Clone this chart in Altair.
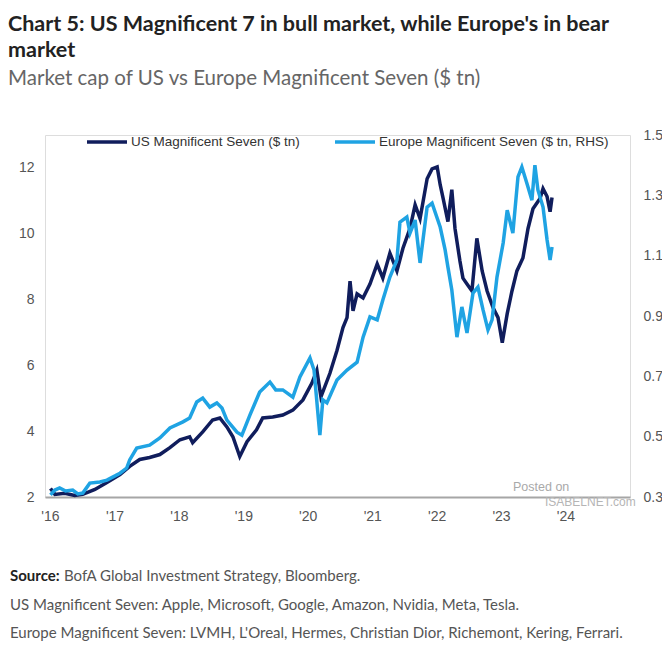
import altair as alt
import pandas as pd

# ---------------- data ----------------
us_name = "US Magnificent Seven ($ tn)"
eu_name = "Europe Magnificent Seven ($ tn, RHS)"

us_dates = [
    "2016-01-04", "2016-01-29", "2016-03-25", "2016-05-20", "2016-07-05", "2016-09-12",
    "2016-11-19", "2017-02-01", "2017-03-28", "2017-05-24", "2017-07-19", "2017-09-15",
    "2017-11-11", "2018-01-07", "2018-03-03", "2018-03-20", "2018-05-16", "2018-07-11",
    "2018-08-21", "2018-09-30", "2018-11-03", "2018-12-12", "2019-01-22", "2019-03-17",
    "2019-04-21", "2019-06-17", "2019-08-13", "2019-10-09", "2019-12-05", "2020-01-25",
    "2020-02-22", "2020-03-16", "2020-05-06", "2020-06-15", "2020-07-19", "2020-08-11",
    "2020-08-28", "2020-09-14", "2020-10-07", "2020-11-10", "2020-12-19", "2021-01-29",
    "2021-03-02", "2021-04-11", "2021-05-21", "2021-06-24", "2021-08-03", "2021-09-01",
    "2021-09-29", "2021-11-08", "2021-12-06", "2022-01-04", "2022-01-21", "2022-02-07",
    "2022-03-06", "2022-03-28", "2022-04-15", "2022-05-13", "2022-05-30", "2022-06-22",
    "2022-07-20", "2022-08-17", "2022-09-16", "2022-10-14", "2022-11-17", "2022-12-15",
    "2023-01-08", "2023-02-05", "2023-03-04", "2023-04-01", "2023-05-05", "2023-06-03",
    "2023-07-01", "2023-08-10", "2023-08-27", "2023-09-19", "2023-10-06", "2023-10-17",
]
us_values = [
    2.26, 2.08, 2.11, 2.05, 2.08, 2.23,
    2.44, 2.68, 2.93, 3.14, 3.20, 3.29,
    3.50, 3.74, 3.83, 3.65, 3.98, 4.34,
    4.40, 4.13, 3.83, 3.23, 3.68, 4.04,
    4.40, 4.43, 4.49, 4.64, 4.95, 5.46,
    5.85, 5.04, 5.76, 6.45, 7.15, 7.45,
    8.56, 7.66, 8.17, 8.05, 8.47, 9.08,
    8.65, 9.41, 8.87, 9.56, 10.16, 10.88,
    10.46, 11.67, 11.97, 12.03, 11.49, 11.07,
    10.37, 11.34, 10.16, 9.17, 8.65, 8.47,
    8.26, 9.86, 8.87, 8.26, 7.75, 7.45,
    6.69, 7.57, 8.26, 8.87, 9.26, 10.16,
    10.76, 11.07, 11.37, 11.13, 10.67, 11.10,
]

eu_dates = [
    "2016-01-04", "2016-01-29", "2016-02-25", "2016-03-30", "2016-05-09", "2016-06-07",
    "2016-07-05", "2016-08-14", "2016-10-10", "2016-11-19", "2017-01-04", "2017-02-01",
    "2017-03-11", "2017-03-28", "2017-05-07", "2017-07-19", "2017-09-15", "2017-11-11",
    "2018-01-24", "2018-03-03", "2018-04-12", "2018-05-16", "2018-06-25", "2018-08-04",
    "2018-09-02", "2018-09-30", "2018-11-26", "2018-12-24", "2019-02-08", "2019-04-04",
    "2019-06-01", "2019-07-04", "2019-08-13", "2019-10-09", "2019-11-18", "2020-01-14",
    "2020-02-06", "2020-03-10", "2020-03-27", "2020-04-19", "2020-06-15", "2020-08-11",
    "2020-10-07", "2020-11-10", "2020-12-19", "2021-01-29", "2021-03-02", "2021-04-11",
    "2021-05-21", "2021-06-07", "2021-07-16", "2021-08-03", "2021-09-01", "2021-09-29",
    "2021-11-08", "2021-12-06", "2022-01-21", "2022-02-18", "2022-03-06", "2022-03-28",
    "2022-04-26", "2022-05-24", "2022-06-22", "2022-07-26", "2022-08-23", "2022-09-21",
    "2022-10-19", "2022-11-11", "2022-12-09", "2023-01-13", "2023-02-05", "2023-03-09",
    "2023-04-07", "2023-04-29", "2023-05-27", "2023-06-25", "2023-07-12", "2023-07-29",
    "2023-08-27", "2023-09-19", "2023-10-06", "2023-10-17",
]
eu_values = [
    0.307, 0.323, 0.330, 0.320, 0.323, 0.310,
    0.313, 0.346, 0.350, 0.356, 0.370, 0.379,
    0.396, 0.423, 0.462, 0.472, 0.496, 0.529,
    0.549, 0.562, 0.615, 0.628, 0.598, 0.612,
    0.595, 0.555, 0.515, 0.505, 0.572, 0.648,
    0.681, 0.655, 0.655, 0.631, 0.698, 0.761,
    0.721, 0.505, 0.622, 0.612, 0.688, 0.721,
    0.747, 0.830, 0.897, 0.887, 0.953, 1.029,
    1.086, 1.211, 1.228, 1.175, 1.218, 1.076,
    1.261, 1.274, 1.195, 1.119, 1.062, 0.986,
    0.830, 0.930, 0.844, 0.976, 0.996, 0.920,
    0.854, 0.887, 1.029, 1.142, 1.251, 1.175,
    1.361, 1.394, 1.341, 1.284, 1.400, 1.318,
    1.261, 1.152, 1.086, 1.129,
]

year_ticks = [2016, 2017, 2018, 2019, 2020, 2021, 2022, 2023, 2024]
left_ticks = [2, 4, 6, 8, 10, 12]
right_ticks = [0.3, 0.5, 0.7, 0.9, 1.1, 1.3, 1.5]

series_names = [us_name, eu_name]
series_colors = ["#101d5c", "#1fa3e3"]

title_lines = ["Chart 5: US Magnificent 7 in bull market, while Europe's in bear", "market"]
subtitle_text = "Market cap of US vs Europe Magnificent Seven ($ tn)"
source_label = "Source:"
source_text = "BofA Global Investment Strategy, Bloomberg."
note_us = "US Magnificent Seven: Apple, Microsoft, Google, Amazon, Nvidia, Meta, Tesla."
note_eu = "Europe Magnificent Seven: LVMH, L'Oreal, Hermes, Christian Dior, Richemont, Kering, Ferrari."

# ---------------- build ----------------
us_df = pd.DataFrame({"date": us_dates, "value": us_values, "series": us_name})
eu_df = pd.DataFrame({"date": eu_dates, "value": eu_values, "series": eu_name})

color_scale = alt.Scale(domain=series_names, range=series_colors)
legend = alt.Legend(
    title=None, orient="none", legendX=40, legendY=-15, direction="horizontal",
    symbolType="stroke", symbolSize=1600, symbolStrokeWidth=3.5,
    labelFont="Liberation Sans", labelFontSize=13.5, labelColor="#333",
    labelOffset=2, columnPadding=28, labelLimit=500,
)

x_enc = alt.X(
    "date:T",
    scale=alt.Scale(domain=[alt.DateTime(year=2015, month=12, date=4),
                            alt.DateTime(year=2025, month=1, date=1)]),
    axis=alt.Axis(
        values=[alt.DateTime(year=y, month=1, date=1) for y in year_ticks],
        format="'%y", title=None, grid=False, ticks=False,
        domainColor="#a6a6a6", domainWidth=2,
        labelFont="Liberation Sans", labelFontSize=14, labelColor="#555",
        labelPadding=12,
    ),
)

us_line = alt.Chart(us_df).mark_line(strokeWidth=3.5).encode(
    x=x_enc,
    y=alt.Y("value:Q", scale=alt.Scale(domain=[2, 13]),
            axis=alt.Axis(orient="left", values=left_ticks, title=None, grid=False,
                          ticks=False, domain=False, labelFont="Liberation Sans",
                          labelFontSize=14, labelColor="#555", labelPadding=11)),
    color=alt.Color("series:N", scale=color_scale, legend=legend),
)

eu_line = alt.Chart(eu_df).mark_line(strokeWidth=3.5).encode(
    x=x_enc,
    y=alt.Y("value:Q", scale=alt.Scale(domain=[0.3, 1.5]),
            axis=alt.Axis(orient="right", values=right_ticks, format=".1f", title=None,
                          grid=False, ticks=False, domain=False,
                          labelFont="Liberation Sans", labelFontSize=14,
                          labelColor="#555", labelPadding=13)),
    color=alt.Color("series:N", scale=color_scale, legend=legend),
)


def note(text, x, y, weight="normal", size=15, color="#555", font="Lato"):
    return alt.Chart(pd.DataFrame({"t": [text]})).mark_text(
        align="left", baseline="middle", font=font, fontSize=size,
        fontWeight=weight, color=color,
    ).encode(text="t:N", x=alt.value(x), y=alt.value(y))


footer = [
    note(source_label, -35, 441, weight="bold", color="#222"),
    note(source_text, 19, 441),
    note(note_us, -35, 470),
    note(note_eu, -35, 498),
    note("Posted on", 468, 352, size=12.5, color="#a9a9a9", font="Liberation Sans"),
    note("ISABELNET.com", 500, 367, size=12, color="#b5b5b5", font="Liberation Sans"),
]

chart = alt.layer(us_line, eu_line, *footer).resolve_scale(
    y="independent"
).properties(
    width=585, height=362,
    padding={"left": 37, "top": 127, "right": 32, "bottom": 148},
    autosize=alt.AutoSizeParams(type="none"),
    title=alt.TitleParams(
        text=title_lines, subtitle=subtitle_text, anchor="start", frame="group",
        dx=-37, offset=31, font="Lato", fontSize=21.5, fontWeight="bold",
        color="#222", lineHeight=26, subtitleFont="Lato", subtitleFontSize=20.5,
        subtitleColor="#666", subtitlePadding=7,
    ),
).configure_view(stroke=None).configure(background="white")

chart.save("out.html", embed_options={"renderer": "svg", "actions": False})
